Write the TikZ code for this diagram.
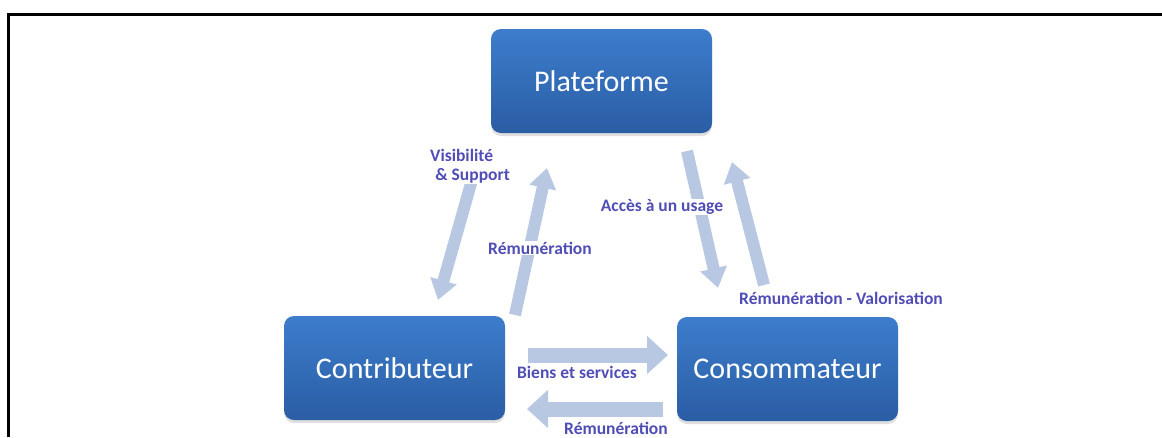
\documentclass[tikz,border=0pt]{standalone}
\usepackage{fontspec}
\setmainfont{Carlito}
\usetikzlibrary{arrows.meta,shadows,positioning}
\definecolor{boxtop}{RGB}{61,125,204}
\definecolor{boxbottom}{RGB}{42,93,164}
\definecolor{fluxcol}{RGB}{184,200,226}
\definecolor{textcol}{RGB}{80,78,182}
\tikzset{
  acteur/.style={rectangle, rounded corners=10pt, minimum width=221pt, minimum height=104pt,
    top color=boxtop, bottom color=boxbottom, text=white, font=\fontsize{30}{36}\selectfont,
    drop shadow={shadow xshift=0pt, shadow yshift=-3pt, opacity=0.25}},
  flux/.style={draw=fluxcol, line width=12pt, -{Triangle[length=20pt,width=26pt]}},
  fluxh/.style={draw=fluxcol, line width=15pt, -{Triangle[length=21pt,width=37pt]}},
  etiquette/.style={text=textcol, font=\bfseries\fontsize{17.5}{19.5}\selectfont, fill=white, inner sep=0.5pt}
}

\begin{document}
\begin{tikzpicture}[x=1pt,y=-1pt]
    \useasboundingbox (0,0) rectangle (1162,437);
    \draw[line width=3pt] (8,437) -- (8,14) -- (1162,14);

    \node[acteur] (plateforme) at (601.5,81) {Plateforme};
    \node[acteur] (contributeur) at (394.5,368) {Contributeur};
    \node[acteur] (consommateur) at (787.5,369) {Consommateur};

    \coordinate (vis1) at (472,180);
    \coordinate (vis2) at (438,300);
    \coordinate (rem1) at (515,315);
    \coordinate (rem2) at (547,168);
    \coordinate (acc1) at (687,151);
    \coordinate (acc2) at (718,288);
    \coordinate (val1) at (764,285);
    \coordinate (val2) at (732,162);
    \coordinate (bie1) at (528,355);
    \coordinate (bie2) at (668,355);
    \coordinate (pay1) at (663,409);
    \coordinate (pay2) at (527,409);

    \draw[flux] (vis1) -- (vis2);
    \draw[flux] (rem1) -- (rem2);
    \draw[flux] (acc1) -- (acc2);
    \draw[flux] (val1) -- (val2);
    \draw[fluxh] (bie1) -- (bie2);
    \draw[fluxh] (pay1) -- (pay2);

    \node[etiquette, align=left] (visibilite) at (470,166) {Visibilité\\\hspace*{0.3em}\& Support};
    \node[etiquette] (remplat) at (540,248) {Rémunération};
    \node[etiquette] (acces) at (662,207) {Accès à un usage};
    \node[etiquette] (valorisation) at (841,298) {Rémunération - Valorisation};
    \node[etiquette] (biens) at (577,372) {Biens et services};
    \node[etiquette] (remcons) at (616,428) {Rémunération};
\end{tikzpicture}
\end{document}
